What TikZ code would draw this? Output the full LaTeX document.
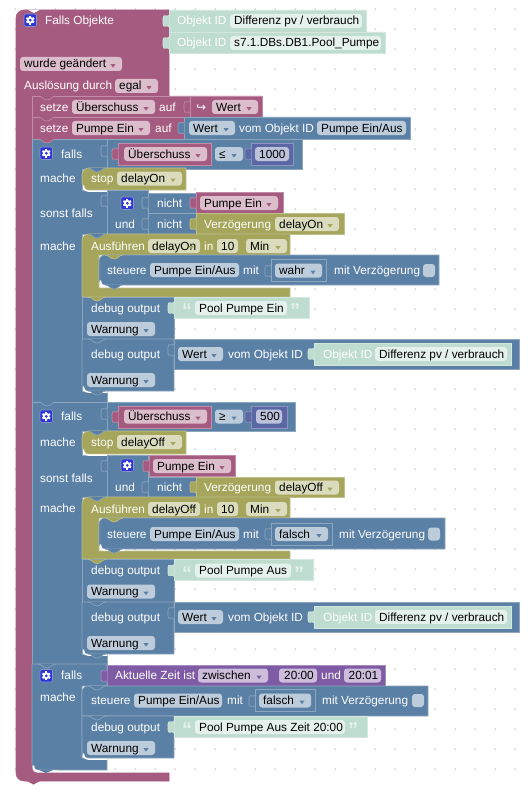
\documentclass[tikz,border=0pt]{standalone}
\usepackage{fontspec}
\setmainfont{Liberation Sans}
\newfontfamily\djv{DejaVu Sans}
\definecolor{cP}{HTML}{A55B80}\definecolor{lP}{HTML}{C08CA6}\definecolor{fP}{HTML}{DBBDCC}
\definecolor{cB}{HTML}{5B80A5}\definecolor{lB}{HTML}{8CA6C0}\definecolor{fB}{HTML}{BDCCDB}
\definecolor{cO}{HTML}{A5A55B}\definecolor{lO}{HTML}{C0C08C}\definecolor{fO}{HTML}{DBDBBD}
\definecolor{cT}{HTML}{BEDCD0}\definecolor{lT}{HTML}{D2E7DE}\definecolor{fT}{HTML}{E5F1EC}
\definecolor{cM}{HTML}{5B67A5}\definecolor{lM}{HTML}{8C95C0}\definecolor{fM}{HTML}{BDC2DB}
\definecolor{cV}{HTML}{805BA5}\definecolor{lV}{HTML}{A68CC0}\definecolor{fV}{HTML}{CCBDDB}
\definecolor{cI}{HTML}{2B35D8}
\newcount\nn
\tikzset{
 lbl/.style={anchor=base west,inner sep=0pt,text=white,font=\fontsize{11.8}{14}\selectfont},
 fldt/.style={anchor=base west,inner sep=0pt,text=black,font=\fontsize{11.8}{14}\selectfont},
 qt/.style={anchor=base west,inner sep=0pt,text=fT,font=\fontsize{20}{20}\selectfont\bfseries},
 blk/.style={line width=.6pt,line join=miter},
}
% label: x, y centre, text
\newcommand\Lbl[3]{\global\advance\nn by 1 \node[lbl] (t\the\nn) at (#1,#2+4) {#3};}
% field without arrow: x1,x2,yc,text,fill
\newcommand\FldN[5]{\global\advance\nn by 1
 \fill[#5,rounded corners=3pt] (#1,#3-7) rectangle (#2,#3+7);
 \node[fldt] (t\the\nn) at (#1+4,#3+4) {#4};}
% field with arrow: x1,x2,yc,text,fill,arrow colour
\newcommand\Fld[6]{\FldN{#1}{#2}{#3}{#4}{#5}
 \fill[#6] (#2-11.5,#3+0.2) -- (#2-6.5,#3+0.2) -- (#2-9,#3+3.6) -- cycle;}
% block: colour, light, x1,y1,x2,y2, r top, r bottom
\newcommand\Blk[8]{\filldraw[fill=#1,draw=#2,blk]
 (#3,#4+#7) .. controls (#3,#4+.45*#7) and (#3+.45*#7,#4) .. (#3+#7,#4) -- (#5,#4) -- (#5,#6) -- (#3+#8,#6)
 .. controls (#3+.45*#8,#6) and (#3,#6-.45*#8) .. (#3,#6-#8) -- cycle;}
% tab: colour, light, x, y
\newcommand\Tab[4]{\filldraw[fill=#1,draw=#2,blk]
 (#3+.3,#4) .. controls (#3-2,#4+3) and (#3-6,#4-2) .. (#3-6,#4+3) -- (#3-6,#4+9)
 .. controls (#3-6,#4+14) and (#3-2,#4+9) .. (#3+.3,#4+12);}
% statement bump: colour, light, x, y
\newcommand\Bump[4]{\filldraw[fill=#1,draw=#2,blk]
 (#3+6,#4) .. controls (#3+10,#4) and (#3+11,#4+4) .. (#3+15,#4+4) .. controls (#3+19,#4+4) and (#3+20,#4) .. (#3+24,#4);}
% white highlight at stack bottom-left corner
\newcommand\Hl[2]{\draw[white,line width=1.5pt,line cap=round]
 (#1+.5,#2-4) .. controls (#1+1,#2) and (#1+2,#2+1) .. (#1+7,#2+1.2) -- (#1+24,#2+1.2);}
% gear: x,y of top left
\newcommand\Gear[2]{\filldraw[fill=cI,draw=lM,blk,rounded corners=2pt] (#1,#2) rectangle (#1+12.5,#2+12.5);
 \foreach \a in {0,60,...,300}{\fill[white,shift={(#1+6.25,#2+6.25)},rotate=\a] (-1,-4.4) rectangle (1,0);}
 \fill[white] (#1+6.25,#2+6.25) circle (3.4pt);
 \fill[cI] (#1+6.25,#2+6.25) circle (1.5pt);}
\newcommand\DebugStr[4]{% y top, right of string, field right, text
 \Blk{cB}{lB}{82}{#1}{174}{#1+42.5}{0}{0}
 \Lbl{91}{#1+11}{debug output}
 \Blk{cT}{lT}{174}{#1}{#2}{#1+21}{0}{0}
 \Tab{cT}{lT}{174}{#1+5}
 \global\advance\nn by 1 \node[qt] (t\the\nn) at (182,#1+20.5) {“};
 \FldN{195}{#3}{#1+11}{#4}{fT}
 \global\advance\nn by 1 \node[qt] (t\the\nn) at (#3+3,#1+20.5) {”};
 \Fld{87}{155}{#1+32}{Warnung}{fB}{cB}}
\newcommand\DebugVal[1]{% y top
 \Blk{cB}{lB}{82}{#1}{174}{#1+52}{0}{6}
 \Lbl{91}{#1+15}{debug output}
 \Blk{cB}{lB}{174}{#1}{519}{#1+30}{0}{0}
 \Tab{cB}{lB}{174}{#1+5}
 \Fld{178}{223}{#1+15}{Wert}{fB}{cB}
 \Lbl{228}{#1+15}{vom Objekt ID}
 \Blk{cT}{lT}{314}{#1+4}{511}{#1+26}{0}{0}
 \Tab{cT}{lT}{314}{#1+9}
 \Lbl{323}{#1+15}{Objekt ID}
 \FldN{375}{507}{#1+15}{Differenz pv / verbrauch}{fT}
 \Fld{87}{155}{#1+41}{Warnung}{fB}{cB}}
\begin{document}
\begin{tikzpicture}[x=1pt,y=-1pt]
\path[use as bounding box,fill=white] (0,0) rectangle (527,789);
% background dots
\foreach \i in {0,...,25}{\foreach \j in {0,...,38}{
 \fill[black!14] (15+20*\i-1,9+20*\j-.4) rectangle (15+20*\i+1,9+20*\j+.4);
 \fill[black!14] (15+20*\i-.4,9+20*\j-1) rectangle (15+20*\i+.4,9+20*\j+1);}}
% outer trigger block
\filldraw[fill=cP,draw=cP,blk]
 (16,18) .. controls (16,13) and (20,10) .. (24,10) -- (169,10) -- (169,96) -- (32,96) -- (32,767)
 .. controls (32,771) and (34,773) .. (38,773) -- (169,773) -- (169,781) -- (24,781)
 .. controls (20,781) and (16,778) .. (16,773) -- cycle;
\fill[cP] (27,781) .. controls (30,781) and (30,784.5) .. (33.5,784.5) .. controls (37,784.5) and (37,781) .. (40,781) -- cycle;
\fill[white] (28,9.6) .. controls (31,10) and (31,13) .. (34,13) .. controls (37,13) and (37,10) .. (40,9.6) -- cycle;
\Gear{24}{14}
\Lbl{45}{21}{Falls Objekte}
\Fld{20}{122}{64}{wurde geändert}{fP}{cP}
\Lbl{24}{86}{Auslösung durch}
\Fld{115}{158}{86}{egal}{fP}{cP}
% object id values
\Blk{cT}{lT}{169}{10}{366}{32}{0}{0}
\Tab{cT}{lT}{169}{15}
\Lbl{177}{21}{Objekt ID}
\FldN{230}{362}{21}{Differenz pv / verbrauch}{fT}
\Blk{cT}{lT}{169}{32}{385}{53}{0}{0}
\Tab{cT}{lT}{169}{37}
\Lbl{177}{43}{Objekt ID}
\FldN{230}{381}{43}{s7.1.DBs.DB1.Pool\_Pumpe}{fT}
% setze 1
\Blk{cP}{lP}{32}{96}{262}{117}{0}{0}
\Bump{cP}{lP}{32}{96}
\Lbl{40}{107}{setze}
\Fld{72}{155}{107}{Überschuss}{fP}{cP}
\Lbl{159}{107}{auf}
\Tab{cP}{lP}{190}{101}
\draw[lP,blk] (190,96) -- (190,117);
\global\advance\nn by 1 \node[lbl,font=\djv\fontsize{12}{14}\selectfont] (t\the\nn) at (196,111) {↪};
\Fld{212}{258}{107}{Wert}{fP}{cP}
% setze 2
\Blk{cP}{lP}{32}{117}{184}{139}{0}{0}
\Bump{cP}{lP}{32}{117}
\Lbl{40}{128}{setze}
\Fld{72}{150}{128}{Pumpe Ein}{fP}{cP}
\Lbl{155}{128}{auf}
\Blk{cB}{lB}{184}{117}{410}{139}{0}{0}
\Tab{cB}{lB}{184}{122}
\Fld{189}{235}{128}{Wert}{fB}{cB}
\Lbl{239}{128}{vom Objekt ID}
\FldN{317}{406}{128}{Pumpe Ein/Aus}{fB}
% ===== falls 1
\filldraw[fill=cB,draw=lB,blk] (32,139) -- (302,139) -- (302,169) -- (82,169) -- (82,190) -- (107,190) -- (107,234) -- (82,234) -- (82,391) -- (107,391) -- (107,402) -- (32,402) -- cycle;
\Bump{cP}{lP}{32}{139}
\Gear{40}{147}
\Lbl{61}{154}{falls}
\Lbl{40}{178}{mache}
\Lbl{40}{213}{sonst falls}
\Lbl{40}{246}{mache}
\Blk{cB}{lB}{107}{139}{302}{169}{0}{0}
\Tab{cB}{lB}{107}{145}
\Blk{cP}{lP}{118}{143}{211}{165}{0}{0}
\Tab{cP}{lP}{118}{148}
\Fld{124}{207}{154}{Überschuss}{fP}{cP}
\Fld{215}{243}{154}{≤}{fB}{cB}
\Blk{cM}{lM}{251}{143}{293}{165}{0}{0}
\Tab{cM}{lM}{251}{148}
\FldN{255}{289}{154}{1000}{fM}
% stop 1
\Blk{cO}{lO}{82}{168}{186}{190}{7}{7}
\Hl{83}{190}
\Bump{cB}{lB}{82}{168}
\Lbl{91}{178.5}{stop}
\Fld{117}{182}{178.5}{delayOn}{fO}{cO}
% und 1
\Blk{cB}{lB}{107}{190}{148}{234}{0}{0}
\Tab{cB}{lB}{107}{195}
\Gear{121}{197}
\Lbl{115}{224.5}{und}
\Blk{cB}{lB}{148}{193}{196}{213}{0}{0}
\Tab{cB}{lB}{148}{197}
\Lbl{157}{203.5}{nicht}
\Blk{cP}{lP}{196}{192}{283}{213}{0}{0}
\Tab{cP}{lP}{196}{197}
\Fld{200}{278}{203}{Pumpe Ein}{fP}{cP}
\Blk{cB}{lB}{148}{213}{196}{234}{0}{0}
\Tab{cB}{lB}{148}{218}
\Lbl{157}{224.5}{nicht}
\Blk{cO}{lO}{196}{213}{344}{234}{0}{0}
\Tab{cO}{lO}{196}{218}
\Lbl{204}{224}{Verzögerung}
\Fld{275}{339}{224}{delayOn}{fO}{cO}
% Ausfuehren 1
\filldraw[fill=cO,draw=lO,blk] (82,241) .. controls (82,237) and (85,234) .. (89,234) -- (290,234) -- (290,255) -- (99,255) -- (99,288) -- (290,288) -- (290,297) -- (82,297) -- cycle;
\Bump{cB}{lB}{82}{234}
\Lbl{91}{246}{Ausführen}
\Fld{148}{200}{246}{delayOn}{fO}{cO}
\Lbl{204}{246}{in}
\FldN{217}{238}{246}{10}{fO}
\Fld{246}{287}{246}{Min}{fO}{cO}
% steuere 1
\Blk{cB}{lB}{99}{255}{439}{285}{6}{6}
\Hl{100}{285}
\Bump{cO}{lO}{99}{255}
\Bump{cB}{lB}{99}{285}
\Lbl{107}{270}{steuere}
\FldN{150}{239}{270}{Pumpe Ein/Aus}{fB}
\Lbl{243}{270}{mit}
\Tab{cB}{lB}{271}{265}
\Blk{cB}{lB}{271}{259.5}{326}{281}{0}{0}
\Fld{275}{322}{270.5}{wahr}{fB}{cB}
\Lbl{334}{270.5}{mit Verzögerung}
\fill[fB,rounded corners=3pt] (423,264) rectangle (435,277);
\Bump{cO}{lO}{82}{297}
% debug 1
\DebugStr{297}{309}{287}{Pool Pumpe Ein}
\Bump{cO}{lO}{82}{297}
\Bump{cB}{lB}{82}{339}
\DebugVal{339}
\Bump{cB}{lB}{82}{339}
\Hl{83}{391}
\Bump{cB}{lB}{82}{391}
% ===== falls 2
\filldraw[fill=cB,draw=lB,blk] (32,402) -- (295,402) -- (295,431) -- (82,431) -- (82,455) -- (107,455) -- (107,497) -- (82,497) -- (82,654) -- (107,654) -- (107,664) -- (32,664) -- cycle;
\Bump{cB}{lB}{32}{402}
\Gear{40}{410}
\Lbl{61}{416.5}{falls}
\Lbl{40}{442}{mache}
\Lbl{40}{478}{sonst falls}
\Lbl{40}{508}{mache}
\Blk{cB}{lB}{107}{402}{295}{431}{0}{0}
\Tab{cB}{lB}{107}{408}
\Blk{cP}{lP}{118}{406}{211}{428}{0}{0}
\Tab{cP}{lP}{118}{411}
\Fld{124}{207}{416.5}{Überschuss}{fP}{cP}
\Fld{215}{243}{416.5}{≥}{fB}{cB}
\Blk{cM}{lM}{251}{406}{287}{428}{0}{0}
\Tab{cM}{lM}{251}{411}
\FldN{256}{282}{416.5}{500}{fM}
% stop 2
\Blk{cO}{lO}{82}{431}{186}{454}{7}{7}
\Hl{83}{454}
\Bump{cB}{lB}{82}{431}
\Lbl{91}{442}{stop}
\Fld{117}{182}{442}{delayOff}{fO}{cO}
% und 2
\Blk{cB}{lB}{107}{455}{148}{497}{0}{0}
\Tab{cB}{lB}{107}{460}
\Gear{121}{459}
\Lbl{115}{487.5}{und}
\Blk{cP}{lP}{149}{455}{235}{476.5}{0}{0}
\Tab{cP}{lP}{149}{460}
\Fld{153}{231}{466}{Pumpe Ein}{fP}{cP}
\Blk{cB}{lB}{148}{477}{196}{497}{0}{0}
\Tab{cB}{lB}{148}{481}
\Lbl{157}{487.5}{nicht}
\Blk{cO}{lO}{196}{477}{344}{497}{0}{0}
\Tab{cO}{lO}{196}{481}
\Lbl{204}{487.5}{Verzögerung}
\Fld{275}{339}{487.5}{delayOff}{fO}{cO}
% Ausfuehren 2
\filldraw[fill=cO,draw=lO,blk] (82,504) .. controls (82,500) and (85,497) .. (89,497) -- (290,497) -- (290,518) -- (99,518) -- (99,551) -- (290,551) -- (290,559) -- (82,559) -- cycle;
\Bump{cB}{lB}{82}{497}
\Lbl{91}{509}{Ausführen}
\Fld{148}{200}{509}{delayOff}{fO}{cO}
\Lbl{204}{509}{in}
\FldN{217}{238}{509}{10}{fO}
\Fld{246}{287}{509}{Min}{fO}{cO}
% steuere 2
\Blk{cB}{lB}{99}{518}{445}{549}{6}{6}
\Hl{100}{549}
\Bump{cO}{lO}{99}{518}
\Bump{cB}{lB}{99}{549}
\Lbl{107}{534}{steuere}
\FldN{150}{239}{534}{Pumpe Ein/Aus}{fB}
\Lbl{243}{534}{mit}
\Tab{cB}{lB}{271}{528}
\Blk{cB}{lB}{271}{523}{332}{545}{0}{0}
\Fld{275}{328}{534}{falsch}{fB}{cB}
\Lbl{339}{534}{mit Verzögerung}
\fill[fB,rounded corners=3pt] (428,527.5) rectangle (440,540.5);
% debug 2
\DebugStr{559.5}{313}{291}{Pool Pumpe Aus}
\Bump{cO}{lO}{82}{559.5}
\DebugVal{602}
\Bump{cB}{lB}{82}{602}
\Hl{83}{654}
\Bump{cB}{lB}{82}{654}
% ===== falls 3
\filldraw[fill=cB,draw=lB,blk] (32,664) -- (107,664) -- (107,686) -- (82,686) -- (82,758) -- (107,758) -- (107,770) -- (38,770) .. controls (35,770) and (32,767) .. (32,764) -- cycle;
\Hl{33}{770}
\fill[cB] (39,770) .. controls (42,770) and (43,773) .. (46,773) .. controls (49,773) and (50,770) .. (53,770) -- cycle;
\Bump{cB}{lB}{32}{664}
\Gear{40}{669.5}
\Lbl{61}{675.5}{falls}
\Lbl{40}{697}{mache}
\Blk{cV}{lV}{107}{665}{385}{686}{0}{0}
\Tab{cV}{lV}{107}{670}
\Lbl{115}{675.5}{Aktuelle Zeit ist}
\Fld{198}{268}{675.5}{zwischen}{fV}{cV}
\FldN{279}{317}{675.5}{\kern1pt 20:00}{fV}
\Lbl{321}{675.5}{und}
\FldN{344}{381}{675.5}{\kern.5pt 20:01}{fV}
% steuere 3
\Blk{cB}{lB}{82}{686}{428}{716}{6}{0}
\Bump{cB}{lB}{82}{686}
\Lbl{91}{700.5}{steuere}
\FldN{134}{222}{700.5}{Pumpe Ein/Aus}{fB}
\Lbl{227}{700.5}{mit}
\Tab{cB}{lB}{255}{695}
\Blk{cB}{lB}{255}{689.5}{315}{711.5}{0}{0}
\Fld{259}{311}{700.5}{falsch}{fB}{cB}
\Lbl{322}{700.5}{mit Verzögerung}
\fill[fB,rounded corners=3pt] (412,694) rectangle (424,707);
% debug 3
\Blk{cB}{lB}{82}{716}{174}{758}{0}{6}
\Hl{83}{758}
\Bump{cB}{lB}{82}{716}
\Lbl{91}{727}{debug output}
\Blk{cT}{lT}{174}{716}{367}{737}{0}{0}
\Tab{cT}{lT}{174}{721}
\global\advance\nn by 1 \node[qt] (t\the\nn) at (182,736.5) {“};
\FldN{195}{345}{727}{Pool Pumpe Aus Zeit 20:00}{fT}
\global\advance\nn by 1 \node[qt] (t\the\nn) at (348,736.5) {”};
\Fld{87}{155}{748}{Warnung}{fB}{cB}
\end{tikzpicture}
\end{document}
